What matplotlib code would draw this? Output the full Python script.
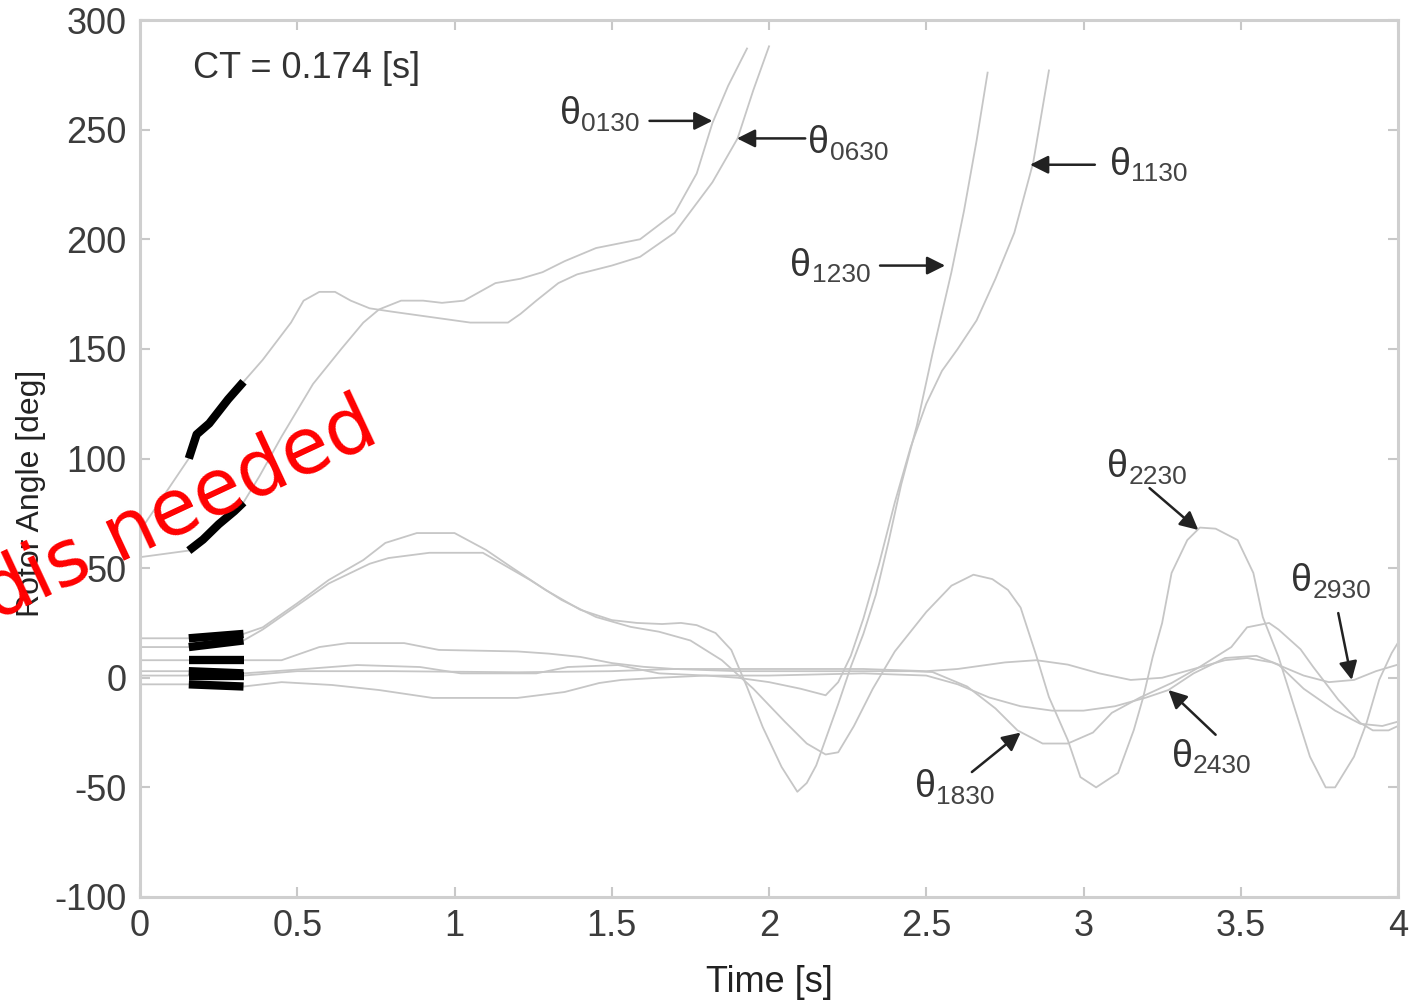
import matplotlib
matplotlib.use("Agg")
import matplotlib.pyplot as plt

plt.rcParams['font.family'] = ['Liberation Sans', 'DejaVu Sans']
plt.rcParams['axes.unicode_minus'] = False

# fault period (CT = 0.174 s)
fault_on = 0.155
fault_off = 0.329

# rotor angle traces (time [s], angle [deg])
t_0130 = [0, 0.155, 0.2, 0.25, 0.3, 0.329, 0.38, 0.45, 0.55, 0.64, 0.71, 0.76, 0.83, 0.9, 0.96, 1.03,
          1.13, 1.21, 1.28, 1.35, 1.45, 1.59, 1.7, 1.77, 1.82, 1.87, 1.93]
v_0130 = [55, 58, 63, 70, 76, 80, 92, 110, 134, 150, 162, 168, 172, 172, 171, 172,
          180, 182, 185, 190, 196, 200, 212, 230, 253, 270, 287]

t_0630 = [0, 0.155, 0.18, 0.22, 0.28, 0.329, 0.39, 0.48, 0.52, 0.57, 0.62, 0.67, 0.73, 0.8, 0.9, 1.0,
          1.05, 1.17, 1.21, 1.26, 1.33, 1.39, 1.5, 1.59, 1.7, 1.82, 1.9, 1.95, 2.0]
v_0630 = [67, 100, 111, 116, 127, 135, 145, 162, 172, 176, 176, 172, 168.5, 167, 165, 163,
          162, 162, 166, 172, 180, 184, 188, 192, 203, 226, 246, 268, 288]

t_1230 = [0, 0.155, 0.329, 0.39, 0.5, 0.6, 0.71, 0.78, 0.88, 1.0, 1.1, 1.18, 1.29, 1.4, 1.5, 1.58,
          1.66, 1.72, 1.77, 1.83, 1.88, 1.93, 1.98, 2.04, 2.09, 2.12, 2.15, 2.18, 2.22, 2.26,
          2.3, 2.34, 2.38, 2.42, 2.47, 2.52, 2.58, 2.62, 2.66, 2.695]
v_1230 = [18, 18, 20, 23, 34, 44.6, 53.7, 61.5, 66, 66, 58.3, 50.5, 40, 31, 26.3, 25,
          24.5, 25, 24, 20.4, 12.7, -4.2, -22.5, -40.7, -52, -48, -40, -28, -12, 5,
          20, 38, 62, 88, 115, 148, 185, 213, 245, 276]

t_2230 = [0, 0.155, 0.329, 0.39, 0.5, 0.6, 0.73, 0.79, 0.92, 1.09, 1.13, 1.24, 1.34, 1.45, 1.56,
          1.65, 1.75, 1.85, 1.95, 2.05, 2.12, 2.18, 2.22, 2.27, 2.33, 2.4, 2.5, 2.58, 2.65,
          2.71, 2.76, 2.8, 2.85, 2.89, 2.95, 2.99, 3.04, 3.11, 3.16, 3.19, 3.22, 3.25, 3.28,
          3.33, 3.37, 3.42, 3.49, 3.54, 3.57, 3.62, 3.67, 3.72, 3.77, 3.8, 3.86, 3.9, 3.94,
          3.98, 4.0]
v_2230 = [14, 14, 17, 22, 33, 43, 52, 54.6, 57, 57, 53.7, 44.6, 35.5, 27.7, 23.2,
          21, 17, 8, -5, -20, -30, -35, -34, -22, -5, 12, 30, 42, 47,
          45, 40, 32, 10, -8.8, -28.4, -45.3, -50, -43.4, -23.8, -8.8, 9.5, 25, 47.8,
          62.8, 68.5, 68, 62.8, 47.8, 27.7, 9.5, -13.3, -36, -50, -50, -36, -20.6, -1,
          11.3, 16]

t_1830 = [0, 0.155, 0.329, 0.45, 0.57, 0.66, 0.84, 0.95, 1.2, 1.3, 1.4, 1.5, 1.6, 1.7, 1.9, 2.1,
          2.3, 2.45, 2.52, 2.63, 2.72, 2.79, 2.87, 2.95, 3.03, 3.09, 3.18, 3.28, 3.37, 3.47,
          3.52, 3.59, 3.62, 3.69, 3.73, 3.81, 3.88, 3.92, 3.97, 4.0]
v_1830 = [8, 8, 8, 8, 14, 15.8, 15.8, 12.7, 12, 11, 9.5, 6.7, 5, 4, 3, 3,
          3, 3, 2.6, -4, -14, -24, -30, -30, -25, -16, -9, -2.4, 5, 14,
          23, 25, 22, 13, 5, -10, -20.6, -24, -24, -22]

t_1130 = [0, 0.155, 0.329, 0.48, 0.69, 0.89, 1.02, 1.26, 1.36, 1.52, 1.65, 1.8, 1.9, 2.0, 2.1,
          2.18, 2.22, 2.26, 2.3, 2.35, 2.4, 2.45, 2.5, 2.55, 2.6, 2.66, 2.72, 2.78, 2.84, 2.89]
v_1130 = [3, 3, 2, 3.5, 5.8, 4.9, 2, 2, 4.9, 5.8, 2, 1, 0, -2, -5,
          -8, -2, 10, 27, 52, 80, 105, 125, 140, 150, 163, 182, 203, 235, 277]

t_2930 = [0, 0.155, 0.329, 0.5, 0.8, 1.2, 1.5, 1.7, 2.0, 2.3, 2.5, 2.6, 2.75, 2.85, 2.95, 3.05,
          3.15, 3.25, 3.35, 3.45, 3.52, 3.6, 3.7, 3.78, 3.86, 3.93, 4.0]
v_2930 = [1, 1, 1, 3, 3, 2.5, 3, 4, 4, 4, 3, 4, 7, 8, 6, 2,
          -1, 0, 4, 8, 9, 7, 1, -2, -1, 3, 6]

t_2430 = [0, 0.155, 0.329, 0.45, 0.61, 0.76, 0.93, 1.2, 1.35, 1.46, 1.53, 1.65, 1.8, 2.0, 2.3,
          2.5, 2.6, 2.7, 2.8, 2.9, 3.0, 3.1, 3.2, 3.27, 3.35, 3.45, 3.55, 3.62, 3.7, 3.8,
          3.88, 3.95, 4.0]
v_2430 = [-3, -3, -4, -2, -3.3, -5.6, -9.2, -9.2, -6.5, -2.4, -1, 0, 1, 1, 2,
          1, -3, -9, -13, -15, -15, -13, -9, -5.6, 2, 9, 10, 6, -5, -15,
          -21, -22, -20]

curves = [(t_0130, v_0130), (t_0630, v_0630), (t_1230, v_1230), (t_2230, v_2230),
          (t_1830, v_1830), (t_1130, v_1130), (t_2930, v_2930), (t_2430, v_2430)]

# label text, label position, arrow tail, arrow head
labels = ['0130', '0630', '1130', '1230', '1830', '2230', '2430', '2930']
label_xy = [(1.335, 257), (2.124, 244), (3.084, 234), (2.067, 188),
            (2.464, -50), (3.075, 96), (3.28, -36), (3.66, 44)]
arrow_from = [(1.62, 254), (2.115, 246), (3.036, 234), (2.353, 188),
              (2.645, -43), (3.21, 86.5), (3.42, -26), (3.81, 29.5)]
arrow_to = [(1.82, 254), (1.898, 246), (2.83, 234), (2.56, 188),
            (2.80, -25), (3.365, 67.4), (3.27, -5.6), (3.853, -1)]

xticks = [0, 0.5, 1, 1.5, 2, 2.5, 3, 3.5, 4]
xtick_labels = ['0', '0.5', '1', '1.5', '2', '2.5', '3', '3.5', '4']
yticks = [-100, -50, 0, 50, 100, 150, 200, 250, 300]

fig = plt.figure(figsize=(14.09, 10.01), dpi=100)
ax = fig.add_axes([0.0994, 0.1039, 0.8928, 0.8761])

for t, v in curves:
    ax.plot(t, v, color='#c6c6c6', lw=1.3, zorder=2)
for t, v in curves:
    tf = [a for a in t if fault_on <= a <= fault_off]
    vf = [b for a, b in zip(t, v) if fault_on <= a <= fault_off]
    ax.plot(tf, vf, color='black', lw=6, solid_capstyle='butt', zorder=3)

for name, xy, p0, p1 in zip(labels, label_xy, arrow_from, arrow_to):
    ax.text(xy[0], xy[1], 'θ', fontsize=27, color='#333333', ha='left', va='center', zorder=5)
    ax.annotate(name, xy=xy, xytext=(15.5, -7), textcoords='offset points', fontsize=19,
                color='#444444', ha='left', va='center', zorder=5)
    ax.annotate('', xy=p1, xytext=p0,
                arrowprops=dict(arrowstyle='-|>,head_length=0.5,head_width=0.25',
                                mutation_scale=22, color='#222222', lw=1.8,
                                shrinkA=0, shrinkB=0), zorder=5)

ax.text(0.168, 278, 'CT = 0.174 [s]', fontsize=26, color='#333333', ha='left', va='center')

ax.set_xlim(0, 4)
ax.set_ylim(-100, 300)
ax.set_xticks(xticks)
ax.set_xticklabels(xtick_labels)
ax.set_yticks(yticks)
ax.tick_params(direction='in', length=7, width=1.5, color='#c8c8c8', labelcolor='#3c3c3c',
               labelsize=26, top=True, right=True)
ax.tick_params(axis='x', pad=9)
ax.tick_params(axis='y', pad=10)
for s in ax.spines.values():
    s.set_color('#cfcfcf')
    s.set_linewidth(2.2)

ax.set_xlabel('Time [s]', fontsize=26, color='#222222', labelpad=15)
ax.set_ylabel('Rotor Angle [deg]', fontsize=23, color='#222222')
ax.yaxis.set_label_coords(-0.075, 0.46)

fig.text(-0.004, 0.3796, 'dis needed', color='red', fontsize=56, rotation=25,
         rotation_mode='anchor', ha='left', va='baseline', family='DejaVu Sans', zorder=10)

fig.savefig('out.png', dpi=100)
